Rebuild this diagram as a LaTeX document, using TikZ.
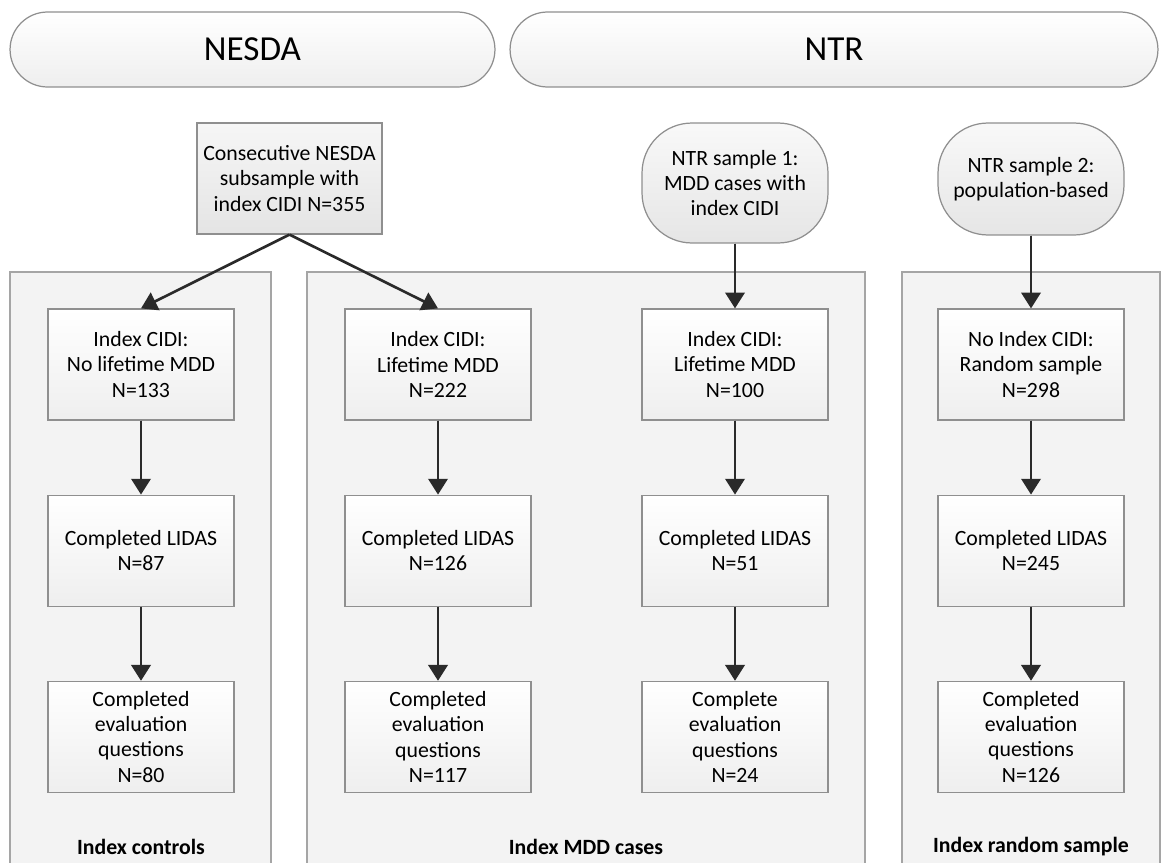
\documentclass[tikz,border=0pt]{standalone}
\usepackage{fontspec}
\setmainfont{Carlito}
\usepackage{tikz}
\usetikzlibrary{arrows.meta}
\usetikzlibrary{positioning}
\definecolor{linegray}{HTML}{8F8F8F}
\definecolor{panelgray}{HTML}{F3F3F3}
\definecolor{arrowgray}{HTML}{2A2A2A}
\tikzstyle{banner} = [draw=linegray, line width=0.7pt, rounded corners=0.75cm, minimum height=1.5cm, top color=white, bottom color=gray!13, font=\fontsize{20}{22}\selectfont]
\tikzstyle{stepbox} = [rectangle, draw=linegray, line width=0.7pt, minimum width=3.72cm, minimum height=2.22cm, inner sep=1pt, align=center, top color=white, bottom color=gray!13]
\tikzstyle{source} = [stepbox, rounded corners=1cm, top color=gray!5, bottom color=gray!20]
\tikzstyle{panel} = [draw=linegray!80, line width=0.7pt, fill=panelgray]
\tikzstyle{flow} = [-{Triangle[width=11pt,length=9pt]}, line width=1.5pt, draw=arrowgray, fill=arrowgray]

\begin{document}
\begin{tikzpicture}[x=0.02cm, y=-0.02cm, font=\fontsize{12.4}{14.3}\selectfont, node distance=1.48cm]
\clip (0,0) rectangle (1165,862);
\fill [white] (0,0) rectangle (1165,862);
% cohort banners
\node [banner, minimum width=9.7cm]  (nesda) at (252.5, 49.5) {NESDA};
\node [banner, minimum width=12.96cm] (ntr) at (834, 49.5) {NTR};
% group panels
\draw [panel] (10,880) rectangle (271,272);
\draw [panel] (307,880) rectangle (865,272);
\draw [panel] (902,880) rectangle (1160,272);
\node [font=\fontsize{12.4}{14.3}\selectfont\bfseries] (lblctrl) at (141, 847) {Index controls};
\node [font=\fontsize{12.4}{14.3}\selectfont\bfseries] (lblmdd) at (586, 847) {Index MDD cases};
\node [font=\fontsize{12.4}{14.3}\selectfont\bfseries] (lblrand) at (1031, 847) {Index random sample};
% sources
\node [stepbox, minimum width=3.7cm, top color=gray!7, bottom color=gray!21] (consec) at (289.5, 178.5) {Consecutive NESDA\\subsample with\\index CIDI N=355};
\node [source, minimum height=2.4cm] (ntrA) at (735, 183) {NTR sample 1:\\MDD cases with\\index CIDI};
\node [source, minimum height=2.24cm] (ntrB) at (1031, 179) {NTR sample 2:\\population-based};
% index controls
\node [stepbox] (cA) at (141, 364.5) {Index CIDI:\\No lifetime MDD\\N=133};
\node [stepbox, below=of cA] (cB) {Completed LIDAS\\N=87};
\node [stepbox, below=of cB] (cC) {Completed\\evaluation\\questions\\N=80};
% NESDA cases
\node [stepbox] (mA) at (438, 364.5) {Index CIDI:\\Lifetime MDD\\N=222};
\node [stepbox, below=of mA] (mB) {Completed LIDAS\\N=126};
\node [stepbox, below=of mB] (mC) {Completed\\evaluation\\questions\\N=117};
% NTR cases
\node [stepbox] (nA) at (735, 364.5) {Index CIDI:\\Lifetime MDD\\N=100};
\node [stepbox, below=of nA] (nB) {Completed LIDAS\\N=51};
\node [stepbox, below=of nB] (nC) {Complete\\evaluation\\questions\\N=24};
% random sample
\node [stepbox] (rA) at (1031, 364.5) {No Index CIDI:\\Random sample\\N=298};
\node [stepbox, below=of rA] (rB) {Completed LIDAS\\N=245};
\node [stepbox, below=of rB] (rC) {Completed\\evaluation\\questions\\N=126};
% arrows
\draw [flow] (consec.south) to (cA.north);
\draw [flow] (consec.south) to (mA.north);
\draw [flow] (ntrA.south) to (nA.north);
\draw [flow] (ntrB.south) to (rA.north);
\foreach \c in {c,m,n,r}{
  \draw [flow] (\c A) to (\c B);
  \draw [flow] (\c B) to (\c C);
}
\end{tikzpicture}
\end{document}
